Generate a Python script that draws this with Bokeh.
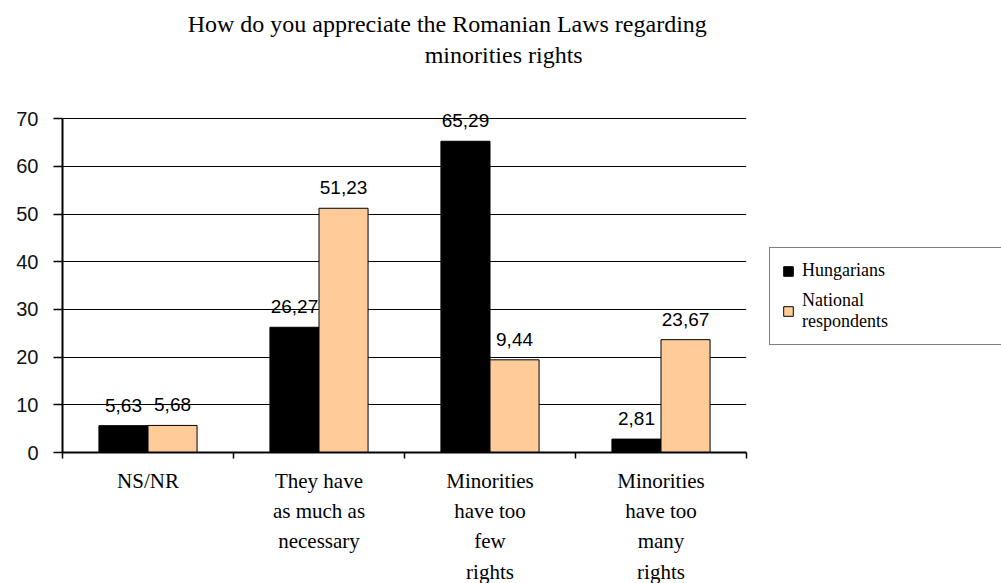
from bokeh.plotting import figure
from bokeh.models import (ColumnDataSource, Range1d, FixedTicker, LinearAxis,
                          LabelSet, Legend, LegendItem)
from bokeh.core.properties import value
from bokeh.transform import dodge
from bokeh.embed import file_html
from bokeh.resources import INLINE

# ---- data ----
categories = ["NS/NR", "They have as much as necessary",
              "Minorities have too few rights", "Minorities have too many rights"]
category_labels = ["NS/NR", "They have\nas much as\nnecessary",
                   "Minorities\nhave too\nfew\nrights", "Minorities\nhave too\nmany\nrights"]
hungarians = [5.63, 26.27, 65.29, 2.81]
national = [5.68, 51.23, 19.44, 23.67]
hungarian_labels = ["5,63", "26,27", "65,29", "2,81"]
national_labels = ["5,68", "51,23", "9,44", "23,67"]
series_names = ["Hungarians", "National\nrespondents"]
y_ticks = [0, 10, 20, 30, 40, 50, 60, 70]
title_line1 = "How do you appreciate the Romanian Laws regarding"
title_line2 = "minorities rights"

SERIF = "Liberation Serif"
SANS = "Liberation Sans"
TITLE1_X = 2.25   # horizontal placement of the title lines (in category slots)
TITLE2_X = 2.58

n = len(categories)
pos = [i + 0.5 for i in range(n)]  # category centres on a numeric scale (slots 0..n)
src = ColumnDataSource(dict(cat=categories, pos=pos, hun=hungarians, nat=national,
                            hl=hungarian_labels, nl=national_labels))

p = figure(width=None, height=None, frame_width=684, frame_height=348,
           x_range=Range1d(0, n), y_range=Range1d(0, 73),
           output_backend="svg", toolbar_location=None,
           min_border_left=62, min_border_right=247, min_border_top=104, min_border_bottom=10)
p.outline_line_color = None
p.background_fill_color = "white"
p.border_fill_color = "white"

bw = 0.287
r1 = p.vbar(x=dodge("pos", -bw / 2), top="hun", width=bw, source=src,
            fill_color="black", line_color="black", line_width=1)
r2 = p.vbar(x=dodge("pos", bw / 2), top="nat", width=bw, source=src,
            fill_color="#FFCC99", line_color="black", line_width=1)

# value labels
for field, top, off in (("hl", "hun", -bw / 2), ("nl", "nat", bw / 2)):
    p.add_layout(LabelSet(x=dodge("pos", off), y=top, text=field, source=src,
                          y_offset=14, text_align="center", text_baseline="bottom",
                          text_font=value(SANS), text_font_size=value("19px"),
                          text_color="black"))

# x axis: category labels at centres, tick marks (minor) at category boundaries
xa = p.xaxis[0]
xa.ticker = FixedTicker(ticks=pos, minor_ticks=list(range(n + 1)))
xa.major_label_overrides = {x: lab for x, lab in zip(pos, category_labels)}
xa.major_tick_out = 0
xa.major_tick_in = 0
xa.major_tick_line_color = None
xa.minor_tick_out = 6
xa.minor_tick_in = 0
xa.minor_tick_line_color = "black"
xa.minor_tick_line_width = 1.5
xa.axis_line_color = "black"
xa.axis_line_width = 2
xa.major_label_standoff = 10
xa.major_label_text_font = SERIF
xa.major_label_text_font_size = "21px"
xa.major_label_text_color = "black"
xa.major_label_text_line_height = 1.27
p.xgrid.visible = False

ya = p.yaxis[0]
ya.ticker = FixedTicker(ticks=y_ticks)
ya.bounds = (y_ticks[0], y_ticks[-1])
ya.axis_line_color = "black"
ya.axis_line_width = 2
ya.major_tick_out = 9
ya.major_tick_in = 0
ya.minor_tick_line_color = None
ya.major_tick_line_color = "black"
ya.major_tick_line_width = 1.5
ya.major_label_text_font = SANS
ya.major_label_text_font_size = "20px"
ya.major_label_text_color = "#111111"
ya.major_label_standoff = 15
p.ygrid.grid_line_color = "black"
p.ygrid.grid_line_width = 1
p.ygrid.grid_line_alpha = 1

# two title lines, each as a label of an "above" axis so they can sit off-centre
def title_axis(x, text, standoff):
    return LinearAxis(ticker=FixedTicker(ticks=[x]), major_label_overrides={x: text},
                      axis_line_color=None, major_tick_line_color=None,
                      minor_tick_line_color=None, major_tick_out=0, major_tick_in=0,
                      major_label_standoff=standoff, major_label_text_font=SERIF,
                      major_label_text_font_size="24px", major_label_text_color="black")

p.add_layout(title_axis(TITLE2_X, title_line2, 37), "above")
p.add_layout(title_axis(TITLE1_X, title_line1, 2), "above")

# legend
legend = Legend(items=[LegendItem(label=series_names[0], renderers=[r1]),
                       LegendItem(label=series_names[1], renderers=[r2])],
                location=(23, 107), margin=0, padding=12, spacing=9,
                glyph_width=12, glyph_height=12, label_standoff=8, label_width=200,
                border_line_color="black", border_line_width=1.5,
                label_text_font=SERIF, label_text_font_size="18px", label_text_color="black",
                background_fill_color="white", background_fill_alpha=1)
p.add_layout(legend, "right")

open("out.html", "w").write(file_html(p, INLINE))
